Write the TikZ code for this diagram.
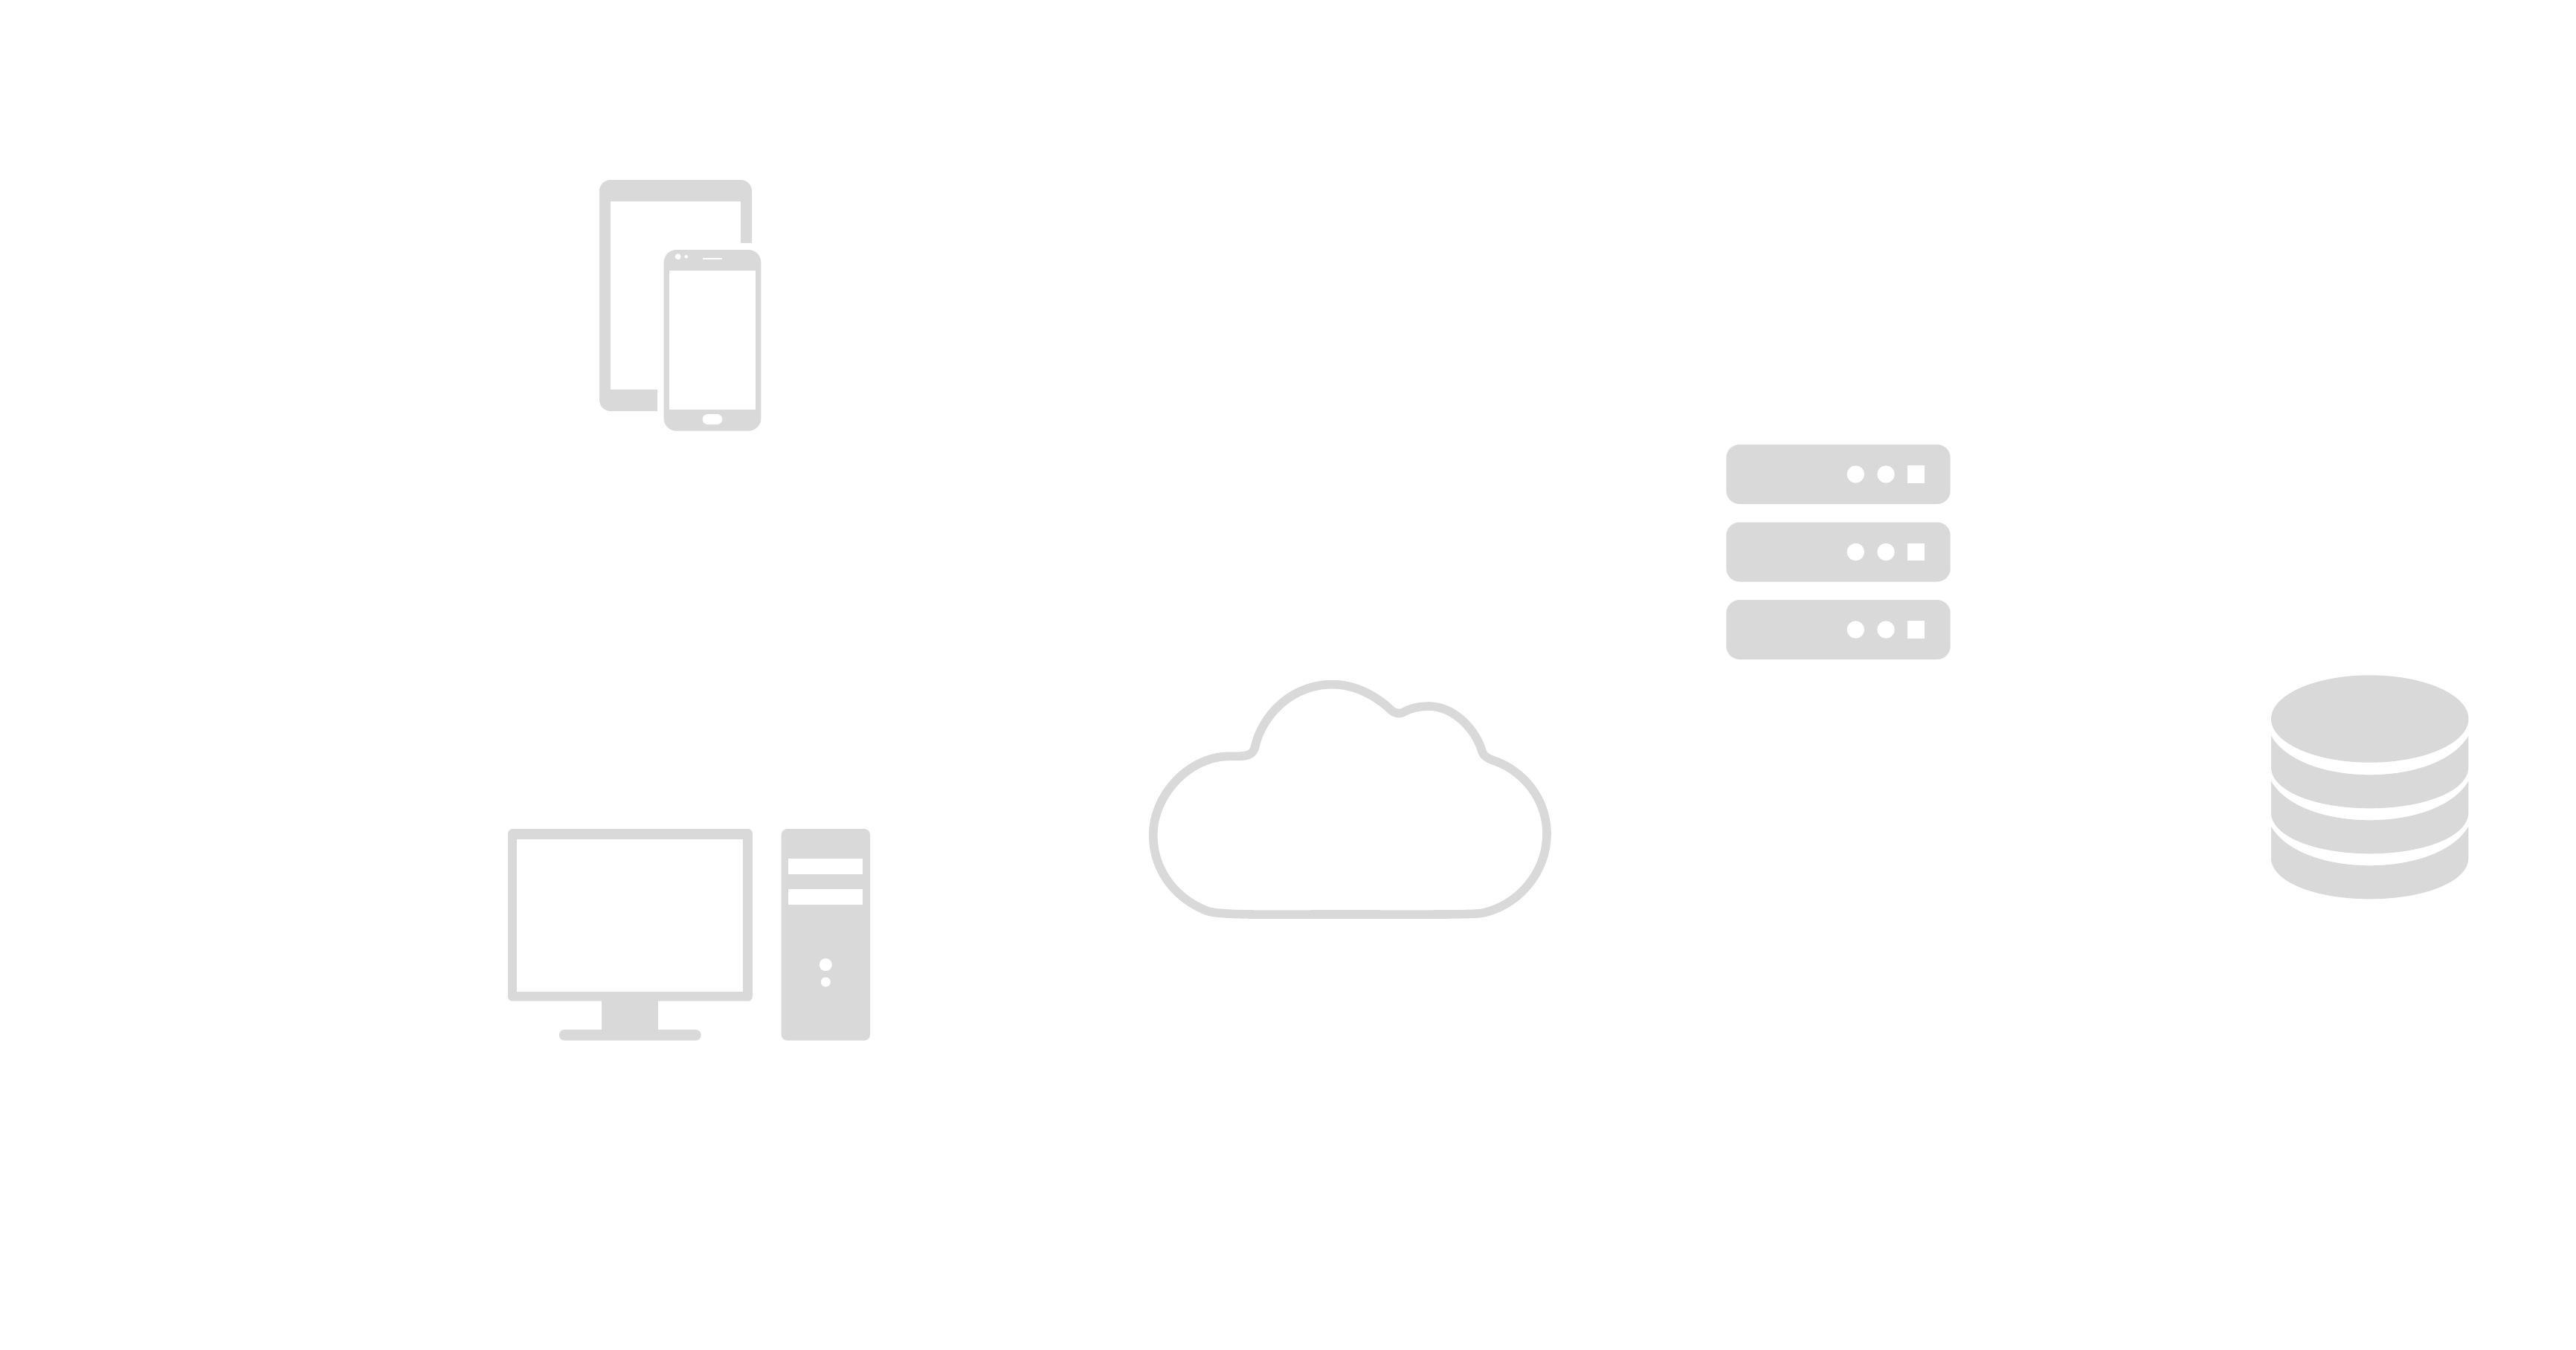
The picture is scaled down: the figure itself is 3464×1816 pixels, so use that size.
\documentclass[tikz,border=0pt]{standalone}
\definecolor{icon}{HTML}{D9D9D9}
\tikzset{
  icon fill/.style={fill=icon,draw=none},
  hole/.style={fill=white,draw=none},
  cloud line/.style={draw=icon,line width=2.9mm,line join=round,fill=white}
}
\begin{document}
\begin{tikzpicture}[x=0.25mm,y=-0.25mm]
\useasboundingbox[fill=white] (0,0) rectangle (3464,1816);
% tablet
\fill[icon fill,rounded corners=3.75mm] (806,242) rectangle (1011,553);
\fill[hole] (821,271) rectangle (996,524);
\fill[hole] (996,327) rectangle (1012,560);
\fill[hole] (884,524) rectangle (1012,560);
% phone
\fill[icon fill,rounded corners=4.25mm] (892.7,336) rectangle (1023.3,579.7);
\fill[hole] (899.7,364.3) rectangle (1016,551);
\fill[hole] (911.7,345.3) circle[radius=4];
\fill[hole] (922.7,345.3) circle[radius=2.3];
\fill[hole] (944.7,346.7) rectangle (971.3,349.3);
\fill[hole,rounded corners=1.75mm] (944.7,557) rectangle (971.3,571);
% monitor
\fill[icon fill,rounded corners=1.5mm] (683.1,1115) rectangle (1011.8,1346.7);
\fill[hole] (695.1,1129) rectangle (999.4,1334.3);
\fill[icon fill] (809,1346) rectangle (884.8,1386);
\fill[icon fill,rounded corners=1.8mm] (751.9,1385) rectangle (942.6,1399.7);
% tower
\fill[icon fill,rounded corners=2mm] (1050.7,1115) rectangle (1170,1399.7);
\fill[hole] (1060,1155) rectangle (1160,1175.5);
\fill[hole] (1060,1195.5) rectangle (1160,1216.5);
\fill[hole] (1110.3,1297.7) circle[radius=8.5];
\fill[hole] (1110.3,1321) circle[radius=6.5];
% cloud
\begin{scope}[shift={(1540,900)},x=0.25mm/3,y=-0.25mm/3]
\draw[cloud line] (32,670)
 .. controls (32,510) and (175,352) .. (340,352)
 .. controls (395,352) and (430,355) .. (442,318)
 .. controls (448,290) and (458,262) .. (470,240)
 .. controls (526,132) and (633,62) .. (755,62)
 .. controls (840,62) and (915,100) .. (975,150)
 .. controls (1000,175) and (1015,185) .. (1040,175)
 .. controls (1070,158) and (1105,150) .. (1145,150)
 .. controls (1240,150) and (1325,235) .. (1355,320)
 .. controls (1363,352) and (1378,358) .. (1402,368)
 .. controls (1530,410) and (1620,530) .. (1620,665)
 .. controls (1620,820) and (1505,955) .. (1358,985)
 .. controls (1320,992) and (1100,990) .. (755,990)
 .. controls (500,990) and (295,995) .. (247,975)
 .. controls (120,925) and (32,810) .. (32,670) -- cycle;
\end{scope}
% server
\foreach \yc in {638,742.5,847}{
  \fill[icon fill,rounded corners=4.5mm] (2321.3,\yc-40) rectangle (2622.7,\yc+40);
  \fill[hole] (2495.3,\yc) circle[radius=11.7];
  \fill[hole] (2536,\yc) circle[radius=11.7];
  \fill[hole] (2565,\yc-11.7) rectangle (2588,\yc+11.7);
}
% database
\fill[icon fill] (3186.7,967) ellipse[x radius=132.7,y radius=58.7];
\foreach \d in {0,61,122}{
  \fill[icon fill] (3054,990+\d) .. controls (3075,1025+\d) and (3130,1042.3+\d) .. (3186.7,1042.3+\d)
    .. controls (3243,1042.3+\d) and (3298,1025+\d) .. (3319.3,990+\d)
    -- (3319.3,1032+\d)
    .. controls (3319.3,1064+\d) and (3260,1087.3+\d) .. (3186.7,1087.3+\d)
    .. controls (3113,1087.3+\d) and (3054,1064+\d) .. (3054,1032+\d) -- cycle;
}
\end{tikzpicture}
\end{document}
